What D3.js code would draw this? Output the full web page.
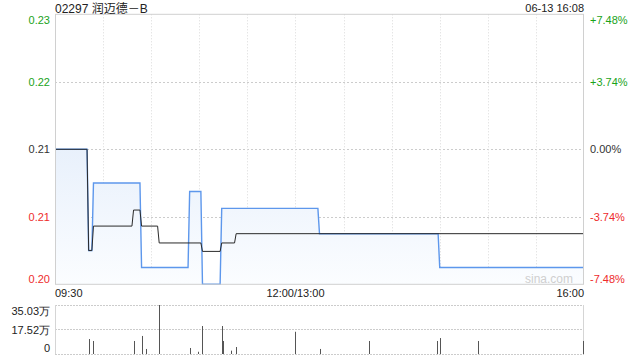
<!DOCTYPE html>
<html><head><meta charset="utf-8">
<script src="https://cdn.jsdelivr.net/npm/d3@7"></script>
<style>
html,body{margin:0;padding:0;background:#fff;}
svg{display:block;font-family:"Liberation Sans",Arial,sans-serif;}
</style></head>
<body>
<svg id="c" width="640" height="360"></svg>
<script>
// ---- data ----
const title = "02297 润迈德－B";
const stamp = "06-13 16:08";
const prevClose = 0.214;
const timeLabels = ["09:30", "12:00/13:00", "16:00"];
const priceTicks = [0.230, 0.222, 0.214, 0.206, 0.198];
const priceTickLabels = ["0.23", "0.22", "0.21", "0.21", "0.20"];
const pctTickLabels = ["+7.48%", "+3.74%", "0.00%", "-3.74%", "-7.48%"];
const volTicks = [35.03, 17.52, 0];
const volTickLabels = ["35.03万", "17.52万", "0"];

const priceTimes = ["09:30","09:50","09:51","09:53","09:54","10:23","10:24","10:53","10:54","11:01","11:02","11:13","11:14","13:14","13:15","14:29","14:30","16:00"];
const priceValues = [0.214,0.214,0.202,0.202,0.210,0.210,0.200,0.200,0.209,0.209,0.198,0.198,0.207,0.207,0.204,0.204,0.200,0.200];

const avgTimes = ["09:30","09:50","09:51","09:53","09:54","10:18","10:19","10:23","10:24","10:34","10:35","11:01","11:02","11:13","11:14","11:22","11:23","16:00"];
const avgValues = [0.214,0.214,0.202,0.202,0.2049,0.2049,0.2068,0.2068,0.2049,0.2049,0.2029,0.2029,0.2019,0.2019,0.2029,0.2029,0.2040,0.2040];

const volTimes = ["09:51","09:54","10:19","10:24","10:27","10:35","10:54","10:59","11:02","11:14","11:15","11:20","11:23","13:00","13:15","13:46","14:28","14:30","14:54","16:00"];
const volValues = [10.7,9.3,9.3,12.9,3.6,35.03,4.3,1.6,20.0,20.0,9.3,2.4,5.0,15.9,3.6,9.3,9.3,11.4,9.3,9.3];

// ---- helpers ----
function minuteOf(t){
  const [h,m] = t.split(":").map(Number);
  const v = h*60+m;
  return v <= 720 ? v - 570 : v - 780 + 150;
}

const L = 55, R = 584, PT = 14.3, PB = 284.3, VT = 305, VB = 354;
const green = "#1aa31a", red = "#ee2b2b", dark = "#333";

const svg = d3.select("#c");
const x = d3.scaleLinear().domain([0, 330]).range([L, R]);
const y = d3.scaleLinear().domain([0.198, 0.230]).range([PB, PT]);
const yv = d3.scaleLinear().domain([0, 35.03]).range([VB, VT]);

// gradient
const defs = svg.append("defs");
const g = defs.append("linearGradient").attr("id","fillg").attr("x1",0).attr("x2",0)
  .attr("gradientUnits","userSpaceOnUse").attr("y1",PT).attr("y2",PB);
g.append("stop").attr("offset","0%").attr("stop-color","#d6e4f8");
g.append("stop").attr("offset","100%").attr("stop-color","#fbfdff");

// grid - price
const gridColor = "#cccccc";
svg.append("g").selectAll("line").data(priceTicks.slice(1,4)).join("line")
  .attr("x1",L).attr("x2",R).attr("y1",d=>Math.round(y(d))+0.5).attr("y2",d=>Math.round(y(d))+0.5)
  .attr("stroke",gridColor).attr("stroke-dasharray","2,2");
const vgrid = d3.range(30, 330, 30);
svg.append("g").selectAll("line").data(vgrid).join("line")
  .attr("x1",d=>Math.round(x(d))+0.5).attr("x2",d=>Math.round(x(d))+0.5).attr("y1",PT).attr("y2",PB)
  .attr("stroke","#dadada").attr("stroke-dasharray","1,2");

// area + lines
const pts = priceTimes.map((t,i)=>({m:minuteOf(t), v:priceValues[i]}));
const apts = avgTimes.map((t,i)=>({m:minuteOf(t), v:avgValues[i]}));
svg.append("path").datum(pts)
  .attr("d", d3.area().x(d=>x(d.m)).y0(PB).y1(d=>y(d.v)))
  .attr("fill","url(#fillg)");
svg.append("path").datum(pts)
  .attr("d", d3.line().x(d=>x(d.m)).y(d=>y(d.v)))
  .attr("fill","none").attr("stroke","#5d97ec").attr("stroke-width",1.4);
svg.append("path").datum(apts)
  .attr("d", d3.line().x(d=>x(d.m)).y(d=>y(d.v)))
  .attr("fill","none").attr("stroke","#2a2a2a").attr("stroke-width",1);

// plot border
svg.append("rect").attr("x",L+0.5).attr("y",PT).attr("width",R-L-1).attr("height",PB-PT)
  .attr("fill","none").attr("stroke","#d0d0d0");

// watermark
svg.append("text").attr("x",573).attr("y",283).attr("text-anchor","end")
  .attr("font-size",12).attr("fill","#cfcfcf").text("sina.com");

// left axis
const colorFor = (i)=> i<2 ? green : (i===2 ? dark : red);
const leftAxis = d3.axisLeft(y).tickValues(priceTicks).tickSize(0).tickPadding(5)
  .tickFormat((d,i)=>priceTickLabels[i]);
const la = svg.append("g").attr("transform",`translate(${L},0)`).call(leftAxis);
la.select(".domain").remove();
la.selectAll("text").attr("font-size",11).attr("font-family","Liberation Sans, Arial, sans-serif")
  .attr("fill",(d,i)=>colorFor(i))
  .attr("dy",(d,i)=> i===0 ? "0.85em" : (i===4 ? "-0.2em" : "0.32em"));

const rightAxis = d3.axisRight(y).tickValues(priceTicks).tickSize(0).tickPadding(6)
  .tickFormat((d,i)=>pctTickLabels[i]);
const ra = svg.append("g").attr("transform",`translate(${R},0)`).call(rightAxis);
ra.select(".domain").remove();
ra.selectAll("text").attr("font-size",11).attr("font-family","Liberation Sans, Arial, sans-serif")
  .attr("fill",(d,i)=>colorFor(i))
  .attr("dy",(d,i)=> i===0 ? "0.85em" : (i===4 ? "-0.2em" : "0.32em"));

// time labels
const timePos = [0, 150, 330];
const anchors = ["start","middle","end"];
svg.append("g").selectAll("text").data(timeLabels).join("text")
  .attr("x",(d,i)=>x(timePos[i])).attr("y",297).attr("text-anchor",(d,i)=>anchors[i])
  .attr("font-size",11).attr("fill","#222").text(d=>d);

// volume grid
svg.append("g").selectAll("line").data(volTicks).join("line")
  .attr("x1",L).attr("x2",R).attr("y1",d=>Math.round(yv(d))+0.5).attr("y2",d=>Math.round(yv(d))+0.5)
  .attr("stroke",gridColor).attr("stroke-dasharray","2,1");
svg.append("line").attr("x1",L+0.5).attr("x2",L+0.5).attr("y1",VT).attr("y2",VB).attr("stroke","#d5d5d5");
svg.append("line").attr("x1",R-0.5).attr("x2",R-0.5).attr("y1",VT).attr("y2",VB).attr("stroke","#d5d5d5");

// volume bars
svg.append("g").selectAll("line").data(volTimes.map((t,i)=>({m:minuteOf(t), v:volValues[i]}))).join("line")
  .attr("x1",d=>Math.min(Math.round(x(d.m))+0.5, R-0.5)).attr("x2",d=>Math.min(Math.round(x(d.m))+0.5, R-0.5))
  .attr("y1",VB).attr("y2",d=>yv(d.v))
  .attr("stroke","#555").attr("stroke-width",1);

// volume axis
const volAxis = d3.axisLeft(yv).tickValues(volTicks).tickSize(0).tickPadding(5)
  .tickFormat((d,i)=>volTickLabels[i]);
const va = svg.append("g").attr("transform",`translate(${L},0)`).call(volAxis);
va.select(".domain").remove();
va.selectAll("text").attr("font-size",11).attr("font-family","Liberation Sans, Arial, sans-serif")
  .attr("fill","#222")
  .attr("dy",(d,i)=> i===0 ? "0.85em" : (i===2 ? "-0.2em" : "0.32em"));

// title + stamp
svg.append("text").attr("x",L).attr("y",13).attr("font-size",12).attr("fill","#222")
  .attr("font-family","Liberation Sans, Noto Sans CJK SC, sans-serif").text(title);
svg.append("text").attr("x",R).attr("y",12).attr("text-anchor","end").attr("font-size",11).attr("fill","#222").text(stamp);
</script>
</body></html>
